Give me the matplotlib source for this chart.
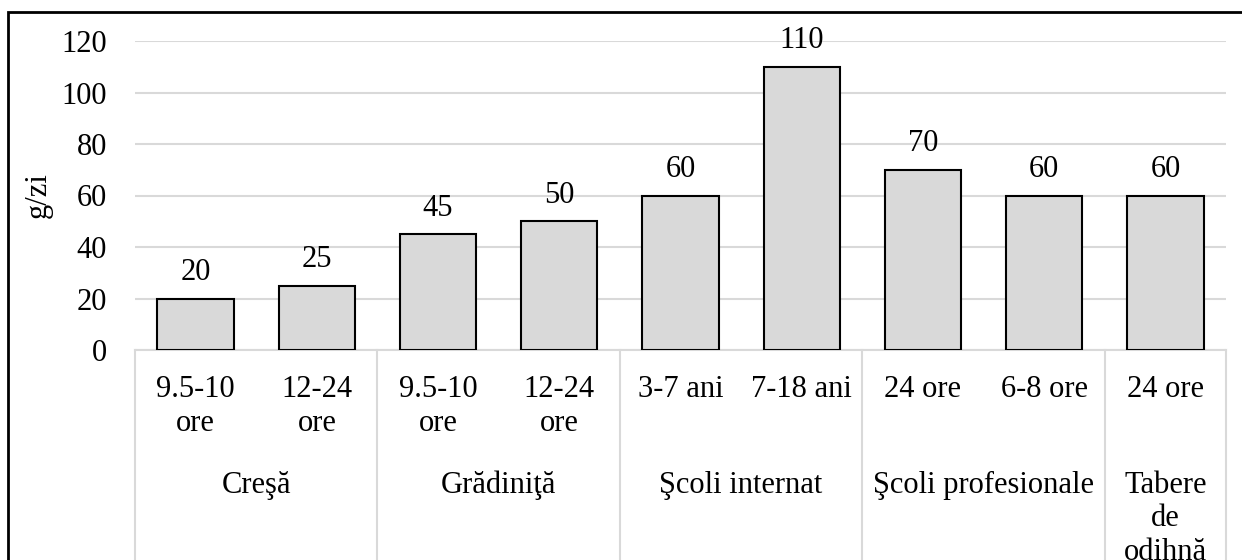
import matplotlib.pyplot as plt
from matplotlib.patches import Rectangle
import matplotlib.transforms as mtransforms

plt.rcParams['font.family'] = ['Liberation Serif', 'DejaVu Serif']
plt.rcParams['font.size'] = 22

values = [20, 25, 45, 50, 60, 110, 70, 60, 60]
sub_labels = ['9.5-10\nore', '12-24\nore', '9.5-10\nore', '12-24\nore',
              '3-7 ani', '7-18 ani', '24 ore', '6-8 ore', '24 ore']
groups = ['Creşă', 'Grădiniţă', 'Şcoli internat', 'Şcoli profesionale',
          'Tabere\nde\nodihnă']
group_sizes = [2, 2, 2, 2, 1]

fig = plt.figure(figsize=(12.42, 5.6), dpi=100)
ax = fig.add_axes([135 / 1242, 210 / 560, 1091 / 1242, 309 / 560])

x = list(range(len(values)))
ax.bar(x, values, width=0.63, color='#d9d9d9', edgecolor='black',
       linewidth=1.5, zorder=3)
for xi, v in zip(x, values):
    ax.annotate(str(v), (xi, v), xytext=(0, 26), textcoords='offset pixels',
                ha='center', va='center')

ax.set_xlim(-0.5, len(values) - 0.5)
ax.set_ylim(0, 120)
ax.set_yticks(range(0, 121, 20))
ax.grid(axis='y', color='#d9d9d9', linewidth=1.5, zorder=0)
for s in ['top', 'right', 'left']:
    ax.spines[s].set_visible(False)
ax.spines['bottom'].set_color('#d9d9d9')
ax.spines['bottom'].set_linewidth(1.5)
ax.tick_params(axis='both', length=0)
ax.tick_params(axis='y', pad=20)
ax.set_xticks([])
ax.set_ylabel('g/zi')
ax.yaxis.set_label_coords(-0.075, 0.5)

# two-level category axis
trans = mtransforms.blended_transform_factory(ax.transData, ax.transAxes)
for xi, lab in zip(x, sub_labels):
    ax.text(xi, -0.08, lab, transform=trans, ha='center', va='top',
            linespacing=1.25)

start = 0
bounds = [-0.5]
for g, n in zip(groups, group_sizes):
    mid = start + (n - 1) / 2
    ax.text(mid, -0.39, g, transform=trans, ha='center', va='top',
            linespacing=1.22)
    start += n
    bounds.append(start - 0.5)
for b in bounds:
    ax.plot([b, b], [0, -0.75], transform=trans, color='#d9d9d9',
            linewidth=1.5, clip_on=False)

# outer frame
fig.patches.append(Rectangle((7.5 / 1242, -0.1), 1.2, (560 - 11.5) / 560 + 0.1,
                             transform=fig.transFigure, fill=False,
                             edgecolor='black', linewidth=2))

fig.savefig('out.png', dpi=100)
